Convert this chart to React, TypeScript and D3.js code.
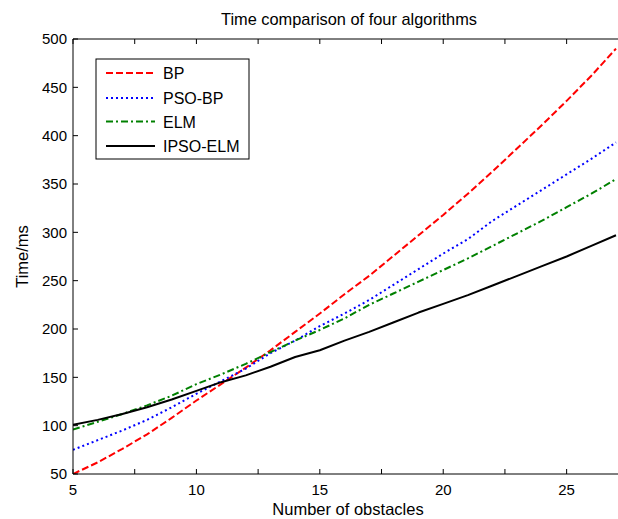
import React from "react";
import * as d3 from "d3";

const xs = [5, 6, 7, 8, 9, 10, 11, 12, 13, 14, 15, 16, 17, 18, 19, 20, 21, 22, 23, 24, 25, 26, 27];
const bp = [50, 62, 76, 91, 108, 126, 143, 160, 178, 197, 216, 236, 255, 276, 297, 318, 340, 363, 387, 411, 436, 462, 490];
const psoBp = [75, 85, 95, 106, 119, 133, 146, 159, 175, 188, 203, 216, 230, 246, 262, 278, 293, 312, 328, 344, 360, 376, 393];
const elm = [96, 104, 112, 121, 131, 143, 153, 164, 176, 188, 199, 211, 225, 237, 249, 261, 273, 286, 299, 312, 326, 340, 355];
const ipsoElm = [101, 106, 112, 119, 127, 136, 145, 152, 161, 171, 178, 188, 197, 207, 217, 226, 235, 245, 255, 265, 275, 286, 297];

const xTicks = [5, 7.5, 10, 12.5, 15, 17.5, 20, 22.5, 25];
const xTickLabels = [5, 10, 15, 20, 25];
const yTicks = [50, 100, 150, 200, 250, 300, 350, 400, 450, 500];

const seriesNames = ["BP", "PSO-BP", "ELM", "IPSO-ELM"];
const seriesData = [bp, psoBp, elm, ipsoElm];
const seriesColors = ["#ff0000", "#0000ff", "#008000", "#000000"];
const seriesDash = ["7,3", "2,3", "7,3,2,3", ""];

const W = 618;
const H = 519;
const left = 73;
const top = 39;
const bottom = 474;
const FONT = "'Liberation Sans', Arial, Helvetica, sans-serif";

export default function App() {
  const x = d3.scaleLinear().domain([5, 27]).range([left, 616]);
  const y = d3.scaleLinear().domain([50, 500]).range([bottom, top]);
  const right = 620;
  const line = d3
    .line<number>()
    .x((_, i) => x(xs[i]))
    .y((d) => y(d));

  const legX = 96;
  const legY = 59;
  const legW = 153;
  const legH = 100;
  const rowY = [73, 98, 121.5, 146];

  return (
    <svg
      width={W}
      height={H}
      style={{ position: "absolute", left: 0, top: 0, background: "#fff" }}
      fontFamily={FONT}
    >
      <rect x={0} y={0} width={W} height={H} fill="#fff" />
      <defs>
        <clipPath id="plot">
          <rect x={left} y={top} width={right - left} height={bottom - top} />
        </clipPath>
      </defs>
      <text
        x={349}
        y={25}
        textAnchor="middle"
        fontSize={17}
        fill="#000"
        textLength={256}
        lengthAdjust="spacingAndGlyphs"
      >
        Time comparison of four algorithms
      </text>
      {/* series */}
      <g clipPath="url(#plot)">
        {seriesData.map((s, k) => (
          <path
            key={k}
            d={line(s) || ""}
            fill="none"
            stroke={seriesColors[k]}
            strokeWidth={2}
            strokeDasharray={seriesDash[k] || undefined}
            strokeLinejoin="round"
          />
        ))}
      </g>
      {/* axes box */}
      <line x1={left} y1={top} x2={right} y2={top} stroke="#000" strokeWidth={1} />
      <line x1={left} y1={bottom} x2={right} y2={bottom} stroke="#000" strokeWidth={1} />
      <line x1={left} y1={top} x2={left} y2={bottom} stroke="#000" strokeWidth={1} />
      {xTicks.map((t) => (
        <g key={"xt" + t}>
          <line x1={x(t)} x2={x(t)} y1={bottom} y2={bottom - 5} stroke="#000" />
          <line x1={x(t)} x2={x(t)} y1={top} y2={top + 5} stroke="#000" />
        </g>
      ))}
      {xTickLabels.map((t) => (
        <text key={"xl" + t} x={x(t)} y={495} textAnchor="middle" fontSize={15} fill="#000">
          {t}
        </text>
      ))}
      {yTicks.map((t) => (
        <g key={"yt" + t}>
          <line x1={left} x2={left + 5} y1={y(t)} y2={y(t)} stroke="#000" />
          <text x={left - 6} y={y(t) + 5.4} textAnchor="end" fontSize={15} fill="#000">
            {t}
          </text>
        </g>
      ))}
      <text x={348} y={515} textAnchor="middle" fontSize={16.5} fill="#000">
        Number of obstacles
      </text>
      <text
        transform={`translate(28, ${(top + bottom) / 2}) rotate(-90)`}
        textAnchor="middle"
        fontSize={16.5}
        fill="#000"
      >
        Time/ms
      </text>
      {/* legend */}
      <rect x={legX} y={legY} width={legW} height={legH} fill="#fff" stroke="#000" strokeWidth={1} />
      {seriesNames.map((n, k) => (
        <g key={n}>
          <line
            x1={106}
            x2={155}
            y1={rowY[k]}
            y2={rowY[k]}
            stroke={seriesColors[k]}
            strokeWidth={2}
            strokeDasharray={seriesDash[k] || undefined}
          />
          <text x={163} y={rowY[k] + 6} fontSize={16} fill="#000">
            {n}
          </text>
        </g>
      ))}
    </svg>
  );
}
